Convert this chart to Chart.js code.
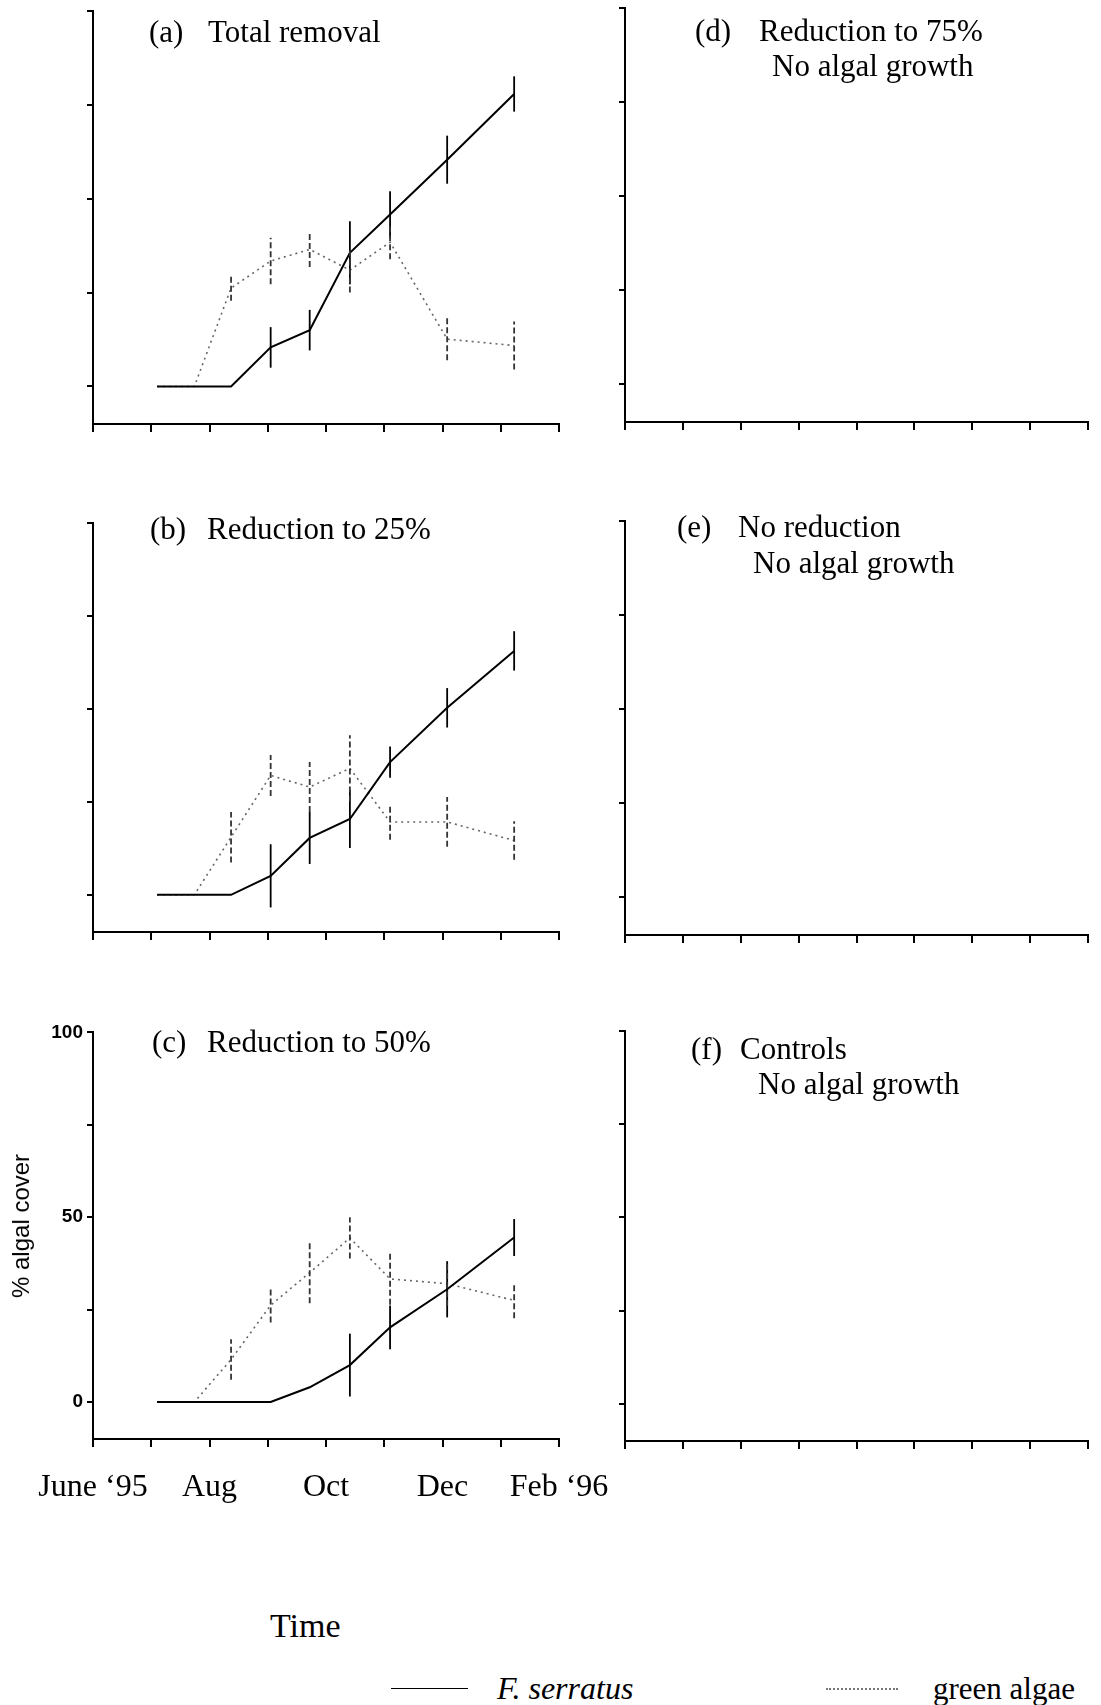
<!DOCTYPE html>
<html>
<head>
<meta charset="utf-8">
<script src="https://cdn.jsdelivr.net/npm/chart.js@4.4.0/dist/chart.umd.min.js"></script>
<style>
  html, body { margin: 0; background: #fff; }
  body { position: relative; width: 1101px; height: 1705px; overflow: hidden; color: #000;
         font-family: 'Liberation Serif', 'Times New Roman', serif; }
  canvas { position: absolute; }
  .txt { position: absolute; white-space: pre; }
  .ylab { position: absolute; font-family: 'Liberation Sans', Arial, sans-serif; font-size: 24px;
          white-space: pre; transform: translate(-50%, -50%) rotate(-90deg); }
  .key { position: absolute; height: 0; }
</style>
</head>
<body>
<script>
// months since 1 June 1995 on the x axis, one tick per month
const MONTH_TICKS = [0, 1, 2, 3, 4, 5, 6, 7, 8];
const MONTH_LABELS = ['June ‘95', '', 'Aug', '', 'Oct', '', 'Dec', '', 'Feb ‘96'];
const Y_TICKS = [0, 25, 50, 75, 100];
const Y_LABELS = ['0', '', '50', '', '100'];

// sampling dates (months since 1 June 1995)
const SAMPLE_MONTHS = [1.1, 1.74, 2.37, 3.05, 3.72, 4.41, 5.1, 6.08, 7.23];

// (a) total removal
const serratusA    = [0, 0, 0, 10.4, 15, 35.6, 45.8, 60.4, 77.9];
const serratusErrA = [0, 0, 0, 5.4, 5.4, 8.4, 6.2, 6.4, 4.7];
const greenA       = [0, 0, 26.2, 33.4, 36.5, 31, 38.4, 12.6, 10.9];
const greenErrA    = [0, 0, 3.4, 6.2, 4.7, 6, 4.5, 5.6, 6.4];

// (b) reduction to 25%
const serratusB    = [0, 0, 0, 5.1, 15.3, 20.4, 35.7, 50.3, 65.6];
const serratusErrB = [0, 0, 0, 8.5, 7, 7.8, 4.2, 5.3, 5.3];
const greenB       = [0, 0, 15.5, 32.1, 29, 34, 19.6, 19.6, 14.6];
const greenErrB    = [0, 0, 6.8, 5.5, 6.7, 8.9, 4.8, 6.7, 5.2];

// (c) reduction to 50%
const serratusC    = [0, 0, 0, 0, 4, 10, 20.2, 30.5, 44.5];
const serratusErrC = [0, 0, 0, 0, 0, 8.5, 5.9, 7.6, 5];
const greenC       = [0, 0, 11.5, 26.2, 35, 44.4, 33.3, 32, 27.5];
const greenErrC    = [0, 0, 5.5, 4.7, 8.3, 5.6, 7, 6, 4.8];

// plot boxes: left, top (100 %), right, bottom (-10 %)
const PANELS = [
  { box: [93, 11, 559, 424],      ser: [serratusA, serratusErrA], green: [greenA, greenErrA] },
  { box: [93, 522.5, 559, 931.5], ser: [serratusB, serratusErrB], green: [greenB, greenErrB] },
  { box: [93, 1030.5, 559, 1438], ser: [serratusC, serratusErrC], green: [greenC, greenErrC], labels: true },
  { box: [625, 7.5, 1088, 421] },
  { box: [625, 520.5, 1088, 934.5] },
  { box: [625, 1030.5, 1088, 1440.5] },
];

// panel headings: text, left, baseline
const HEADINGS = [
  ['(a)', 149, 42], ['Total removal', 208, 42],
  ['(b)', 150, 539], ['Reduction to 25%', 207, 539],
  ['(c)', 152, 1052], ['Reduction to 50%', 207, 1052],
  ['(d)', 695, 41], ['Reduction to 75%', 759, 41], ['No algal growth', 772, 76],
  ['(e)', 677, 537], ['No reduction', 738, 537], ['No algal growth', 753, 573],
  ['(f)', 691, 1059], ['Controls', 740, 1059], ['No algal growth', 758, 1094],
];

const PAD_L = 93, PAD_T = 14, PAD_R = 90, PAD_B = 75;

const pts = vals => SAMPLE_MONTHS.map((m, i) => ({ x: m, y: vals[i] }));

// vertical error bars without caps
const errorBars = {
  id: 'errorBars',
  afterDatasetsDraw(chart) {
    const { ctx, scales: { x, y } } = chart;
    chart.data.datasets.forEach(ds => {
      if (!ds.errors) return;
      ctx.save();
      ctx.strokeStyle = ds.barColor;
      ctx.lineWidth = 1.8;
      ctx.setLineDash(ds.barDash);
      ds.data.forEach((p, i) => {
        const e = ds.errors[i];
        if (!e) return;
        const px = x.getPixelForValue(p.x);
        ctx.beginPath();
        ctx.moveTo(px, y.getPixelForValue(p.y - e));
        ctx.lineTo(px, y.getPixelForValue(p.y + e));
        ctx.stroke();
      });
      ctx.restore();
    });
  }
};

function makePanel(p) {
  const [l, t, r, b] = p.box;
  const cv = document.createElement('canvas');
  cv.width = Math.round(r - l + PAD_L + PAD_R);
  cv.height = Math.round(b - t + PAD_T + PAD_B);
  cv.style.left = (l - PAD_L) + 'px';
  cv.style.top = (t - PAD_T) + 'px';
  document.body.appendChild(cv);

  const datasets = [];
  if (p.ser) {
    datasets.push({
      label: 'F. serratus', data: pts(p.ser[0]), errors: p.ser[1],
      borderColor: '#000', borderWidth: 2, pointRadius: 0, tension: 0,
      barColor: '#000', barDash: []
    });
    datasets.push({
      label: 'green algae', data: pts(p.green[0]), errors: p.green[1],
      borderColor: '#666', borderWidth: 1.6, borderDash: [2, 4], pointRadius: 0, tension: 0,
      barColor: '#333', barDash: [6, 3]
    });
  }

  const axisGrid = len => ({ drawOnChartArea: false, drawTicks: true, tickLength: len, color: '#000', lineWidth: 2 });
  const axisBorder = { display: true, color: '#000', width: 2 };

  new Chart(cv, {
    type: 'line',
    data: { datasets },
    options: {
      responsive: false,
      animation: false,
      events: [],
      layout: { padding: { left: 0, top: PAD_T, right: PAD_R, bottom: 0 } },
      plugins: { legend: { display: false }, tooltip: { enabled: false }, title: { display: false } },
      scales: {
        x: {
          type: 'linear', min: 0, max: 8,
          afterBuildTicks: s => { s.ticks = MONTH_TICKS.map(v => ({ value: v })); },
          afterFit: s => { s.height = PAD_B; },
          grid: axisGrid(8),
          border: axisBorder,
          ticks: {
            display: !!p.labels, autoSkip: false, maxRotation: 0, minRotation: 0, padding: 21,
            color: '#000', font: { family: 'Liberation Serif', size: 32 },
            callback: (v, i) => MONTH_LABELS[i]
          }
        },
        y: {
          type: 'linear', min: -10, max: 100,
          afterBuildTicks: s => { s.ticks = Y_TICKS.map(v => ({ value: v })); },
          afterFit: s => { s.width = PAD_L; },
          grid: axisGrid(6),
          border: axisBorder,
          ticks: {
            display: !!p.labels, padding: 4, color: '#000',
            font: { family: 'Liberation Sans', size: 19, weight: 'bold' },
            callback: (v, i) => Y_LABELS[i]
          }
        }
      }
    },
    plugins: [errorBars]
  });
}

function addText(str, left, baseline, size, extra) {
  const d = document.createElement('div');
  d.className = 'txt';
  d.textContent = str;
  d.style.fontSize = size + 'px';
  d.style.lineHeight = size + 'px';
  d.style.left = left + 'px';
  d.style.top = (baseline - Math.round(size * 0.837)) + 'px';
  if (extra) Object.assign(d.style, extra);
  document.body.appendChild(d);
}

PANELS.forEach(makePanel);
HEADINGS.forEach(([s, x, y]) => addText(s, x, y, 31));

// axis titles
const yTitle = document.createElement('div');
yTitle.className = 'ylab';
yTitle.textContent = '% algal cover';
yTitle.style.left = '21px';
yTitle.style.top = '1226px';
document.body.appendChild(yTitle);
addText('Time', 270, 1637, 34);

// key
const solidKey = document.createElement('div');
solidKey.className = 'key';
Object.assign(solidKey.style, { left: '391px', top: '1688px', width: '77px', borderTop: '1.5px solid #000' });
document.body.appendChild(solidKey);
addText('F. serratus', 497, 1699, 32, { fontStyle: 'italic' });

const dotKey = document.createElement('div');
dotKey.className = 'key';
Object.assign(dotKey.style, { left: '826px', top: '1688px', width: '72px', borderTop: '2px dotted #777' });
document.body.appendChild(dotKey);
addText('green algae', 933, 1699, 31);
</script>
</body>
</html>
